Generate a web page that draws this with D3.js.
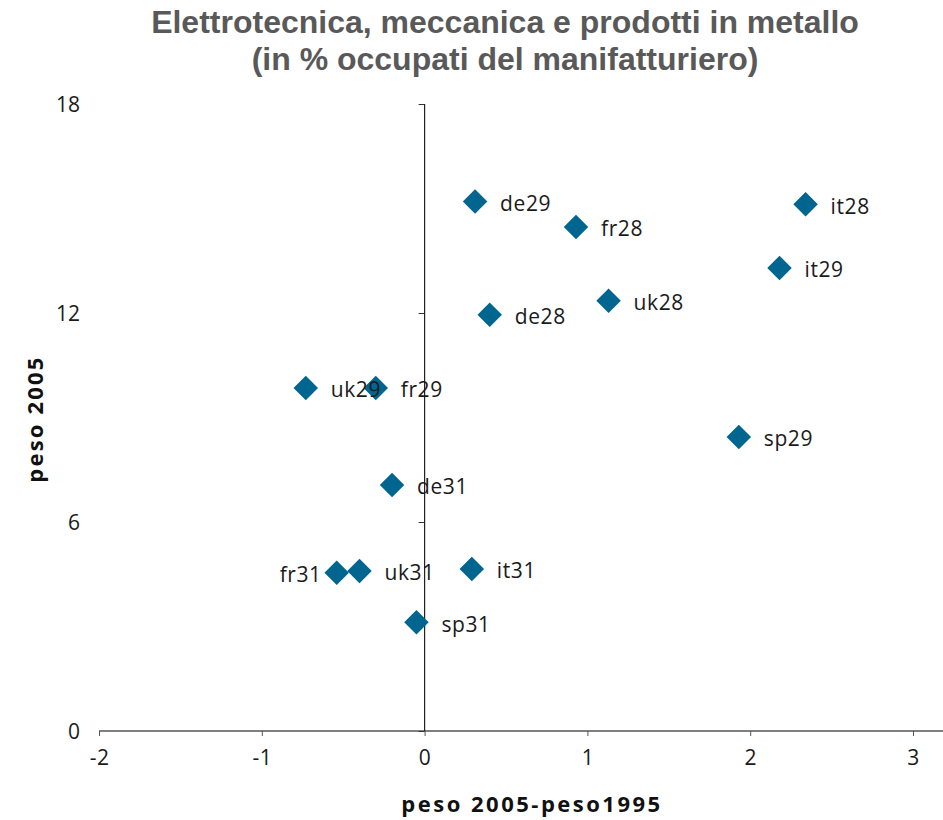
<!DOCTYPE html>
<html><head><meta charset="utf-8">
<script src="https://cdn.jsdelivr.net/npm/d3@7/dist/d3.min.js"></script>
<style>body{margin:0;background:#fff}svg{display:block}</style>
</head><body>
<svg id="c" width="943" height="820"></svg>
<script>
const labels = ["de29","fr28","it28","it29","uk28","de28","uk29","fr29","sp29","de31","fr31","uk31","it31","sp31"];
const xValues = [0.31,0.93,2.34,2.18,1.13,0.40,-0.73,-0.30,1.93,-0.20,-0.54,-0.40,0.29,-0.05];
const yValues = [15.2,14.47,15.12,13.29,12.35,11.95,9.85,9.85,8.44,7.06,4.54,4.59,4.65,3.12];
const labelSide = ["r","r","r","r","r","r","r","r","r","r","l","r","r","r"];
const xTicks = [-2,-1,0,1,2,3];
const yTicks = [0,6,12,18];
const titleLines = ["Elettrotecnica, meccanica e prodotti in metallo","(in % occupati del manifatturiero)"];

const svg = d3.select("#c");
const x = d3.scaleLinear().domain([-2,3]).range([99,913]);
const y = d3.scaleLinear().domain([0,18]).range([731,104]);
const font = "'Open Sans', 'DejaVu Sans', sans-serif";
const fmt = d => String(d);

// title
svg.append("g").selectAll("text").data(titleLines).join("text")
  .attr("x",505).attr("y",(d,i)=>33+i*37).attr("text-anchor","middle")
  .attr("font-family","Arial, 'Liberation Sans', sans-serif").attr("font-weight","bold")
  .attr("font-size",32).attr("fill","#595959").text(d=>d);

// x axis at y=0
const xa = svg.append("g").attr("transform",`translate(0,${y(0)})`)
  .call(d3.axisBottom(x).tickValues(xTicks).tickSize(5).tickPadding(14).tickFormat(fmt));
xa.select(".domain").remove();
xa.append("line").attr("x1",x(-2)).attr("x2",943).attr("stroke","#555").attr("stroke-width",1.5);
xa.selectAll(".tick line").attr("stroke","#555");
xa.selectAll("text").attr("font-family",font).attr("font-size",21).attr("letter-spacing",0.5).attr("fill","#1a1a1a");

// y axis at x=0
const ya = svg.append("g").attr("transform",`translate(${x(0)},0)`)
  .call(d3.axisLeft(y).tickValues(yTicks).tickSize(6).tickFormat(fmt));
ya.select(".domain").remove();
ya.append("line").attr("y1",y(18)).attr("y2",y(0)).attr("stroke","#222").attr("stroke-width",1.2);
ya.selectAll(".tick line").attr("stroke","#333");
ya.selectAll(".tick text").attr("font-family",font).attr("font-size",21).attr("fill","#1a1a1a")
  .attr("text-anchor","end").attr("x",80-x(0)).attr("dy","0.35em");

// axis titles
svg.append("text").attr("x",532).attr("y",812).attr("text-anchor","middle")
  .attr("font-family",font).attr("font-weight","bold").attr("font-size",22).attr("letter-spacing",2.5).attr("fill","#111")
  .text("peso 2005-peso1995");
svg.append("text").attr("transform","translate(43,419) rotate(-90)").attr("text-anchor","middle")
  .attr("font-family",font).attr("font-weight","bold").attr("font-size",22).attr("letter-spacing",2.2).attr("fill","#111")
  .text("peso 2005");

// points
const data = labels.map((l,i)=>({l, x:xValues[i], y:yValues[i], s:labelSide[i]}));
const sym = d3.symbol().type(d3.symbolSquare).size(300);
svg.append("g").selectAll("path").data(data).join("path")
  .attr("d",sym).attr("transform",d=>`translate(${x(d.x)},${y(d.y)}) rotate(45)`)
  .attr("fill","#006690");
svg.append("g").selectAll("text").data(data).join("text")
  .attr("x",d=>d.s==="r"? x(d.x)+25 : x(d.x)-15)
  .attr("y",d=>y(d.y)+2).attr("dy","0.35em")
  .attr("text-anchor",d=>d.s==="r"?"start":"end")
  .attr("font-family",font).attr("font-size",21).attr("letter-spacing",0.6).attr("fill","#1a1a1a").text(d=>d.l);
</script>
</body></html>
